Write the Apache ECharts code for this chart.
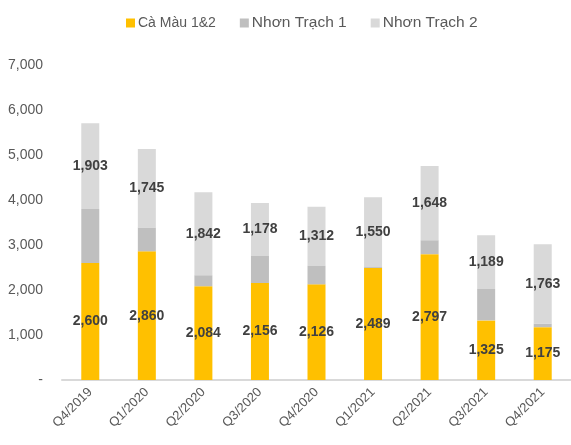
<!DOCTYPE html>
<html>
<head>
<meta charset="utf-8">
<script src="https://cdn.jsdelivr.net/npm/echarts@6/dist/echarts.min.js"></script>
<style>
html, body { margin: 0; padding: 0; background: #fff; }
#chart { width: 571px; height: 445px; }
</style>
</head>
<body>
<div id="chart"></div>
<script>
var quarters = ['Q4/2019', 'Q1/2020', 'Q2/2020', 'Q3/2020', 'Q4/2020', 'Q1/2021', 'Q2/2021', 'Q3/2021', 'Q4/2021'];
var caMau = [2600, 2860, 2084, 2156, 2126, 2489, 2797, 1325, 1175];
var nhonTrach1 = [1200, 530, 245, 600, 410, 20, 310, 700, 80];
var nhonTrach2 = [1903, 1745, 1842, 1178, 1312, 1550, 1648, 1189, 1763];

var chart = echarts.init(document.getElementById('chart'));

function fmt(v) {
  return v === 0 ? '-' : v.toLocaleString('en-US');
}

var lbl = {
  show: true,
  position: 'inside',
  color: '#404040',
  fontWeight: 'bold',
  fontSize: 14,
  fontFamily: 'Liberation Sans, Arial, sans-serif',
  formatter: function (p) { return fmt(p.value); }
};

var option = {
  animation: false,
  textStyle: { fontFamily: 'Liberation Sans, Arial, sans-serif' },
  legend: {
    top: 10,
    left: 121,
    itemWidth: 9,
    itemHeight: 9,
    itemGap: 24,
    icon: 'rect',
    textStyle: { color: '#595959', fontSize: 15.5, padding: [0, 0, 0, -2] },
    data: [
      { name: 'Cà Màu 1&2', textStyle: { fontSize: 14, padding: [2, 0, 0, -2] } },
      { name: 'Nhơn Trạch 1' },
      { name: 'Nhơn Trạch 2' }
    ]
  },
  grid: { left: 62, right: -4, top: 65, bottom: 65 },
  xAxis: {
    type: 'category',
    data: quarters,
    axisLine: { lineStyle: { color: '#D9D9D9', width: 2 } },
    axisTick: { show: false },
    axisLabel: { rotate: 45, color: '#595959', fontSize: 13, margin: 10 }
  },
  yAxis: {
    type: 'value',
    min: 0,
    max: 7000,
    interval: 1000,
    splitLine: { show: false },
    axisLine: { show: false },
    axisTick: { show: false },
    axisLabel: { color: '#595959', fontSize: 14, margin: 19, formatter: fmt }
  },
  series: [
    {
      name: 'Cà Màu 1&2', type: 'bar', stack: 'gas', barWidth: 18,
      itemStyle: { color: '#FFC000' },
      label: lbl,
      data: caMau
    },
    {
      name: 'Nhơn Trạch 1', type: 'bar', stack: 'gas', barWidth: 18,
      itemStyle: { color: '#BFBFBF' },
      data: nhonTrach1
    },
    {
      name: 'Nhơn Trạch 2', type: 'bar', stack: 'gas', barWidth: 18,
      itemStyle: { color: '#D9D9D9' },
      label: lbl,
      data: nhonTrach2
    }
  ]
};
chart.setOption(option);
</script>
</body>
</html>
